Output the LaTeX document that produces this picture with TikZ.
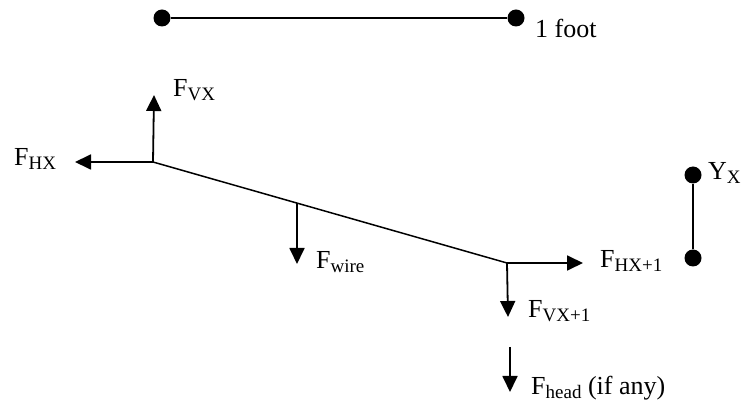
\documentclass[tikz,border=0pt]{standalone}
\usepackage{fontspec}
\setmainfont{Liberation Serif}
\usetikzlibrary{arrows.meta}
\newcommand{\mysub}[1]{\raisebox{-4pt}{\fontsize{19}{19}\selectfont #1}}
\begin{document}
\begin{tikzpicture}[x=1pt,y=-1pt,
  lbl/.style={anchor=base west, inner sep=0pt, font=\fontsize{26}{26}\selectfont},
  force/.style={line width=1.8pt, -{Triangle[length=16pt,width=15pt]}},
  dotnode/.style={circle, fill=black, inner sep=0pt, minimum size=17pt},
  wire/.style={line width=1.5pt}]
\useasboundingbox (0,0) rectangle (745,403);
% scale bar
\node[dotnode] (s1) at (162,18) {};
\node[dotnode] (s2) at (516,18) {};
\draw[line width=2pt] (s1) -- (s2);
\node[lbl] (foot) at (535,38) {1 foot};
% Y marker
\node[dotnode] (y1) at (693,175) {};
\node[dotnode] (y2) at (693,258) {};
\draw[line width=2pt] (y1) -- (y2);
\node[lbl] (yx) at (708,180) {Y\mysub{X}};
% wire
\coordinate (j1) at (153,162);
\coordinate (j2) at (507,263);
\draw[wire] (j1) -- (j2);
% forces at left joint
\coordinate (vxtip) at (154,95);
\coordinate (hxtip) at (75,162);
\draw[force] (j1) -- (vxtip);
\draw[force] (j1) -- (hxtip);
\node[lbl] (fvx) at (173,97) {F\mysub{VX}};
\node[lbl] (fhx) at (14,166) {F\mysub{HX}};
% wire weight
\coordinate (wmid) at (297,203);
\coordinate (wtip) at (297,264);
\draw[force] (wmid) -- (wtip);
\node[lbl] (fwire) at (316,269) {F\mysub{wire}};
% forces at right joint
\coordinate (hx1tip) at (583,263);
\coordinate (vx1tip) at (508,317);
\draw[force] (j2) -- (hx1tip);
\draw[force] (j2) -- (vx1tip);
\node[lbl] (fhx1) at (600,268) {F\mysub{HX+1}};
\node[lbl] (fvx1) at (528,318) {F\mysub{VX+1}};
% head force
\coordinate (hstart) at (510,347);
\coordinate (htip) at (510,392);
\draw[force] (hstart) -- (htip);
\node[lbl] (fhead) at (531,395) {F\mysub{head} (if any)};
\end{tikzpicture}
\end{document}
